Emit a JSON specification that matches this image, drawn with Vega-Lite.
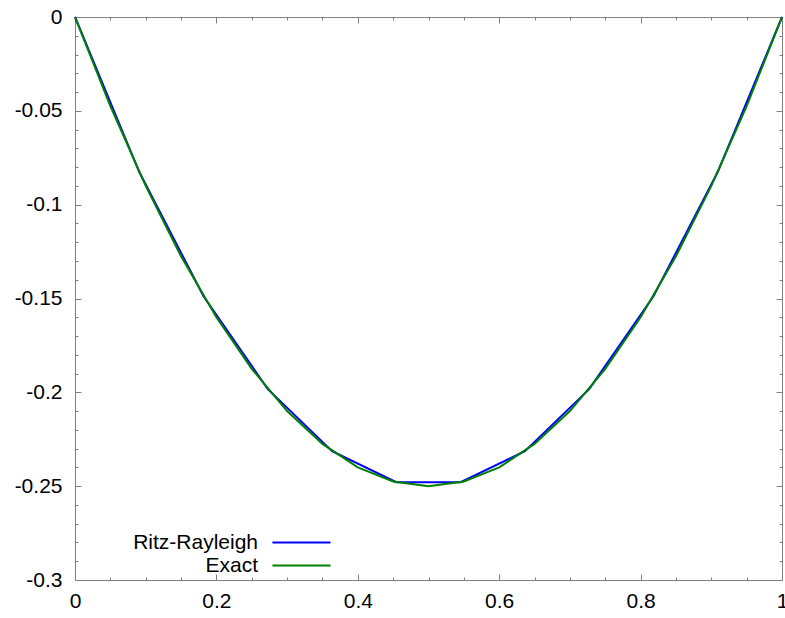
{
  "$schema": "https://vega.github.io/schema/vega-lite/v6.json",
  "width": 707,
  "height": 563,
  "autosize": {"type": "none"},
  "padding": {"left": 75, "top": 17, "right": 3, "bottom": 38},
  "background": "white",
  "config": {
    "font": "Liberation Sans",
    "view": {"stroke": "#808080", "strokeWidth": 1},
    "axis": {
      "domain": false,
      "grid": false,
      "title": null,
      "tickColor": "#808080",
      "tickWidth": 1,
      "labelFont": "Liberation Sans",
      "labelFontSize": 21,
      "labelColor": "black",
      "labelFlush": false,
      "labelOverlap": false,
      "labelBound": false
    }
  },
  "data": {
    "values": [
      {"series": "Ritz-Rayleigh", "x": 0, "y": 0},
      {"series": "Ritz-Rayleigh", "x": 0.0909, "y": -0.0826},
      {"series": "Ritz-Rayleigh", "x": 0.1818, "y": -0.1488},
      {"series": "Ritz-Rayleigh", "x": 0.2727, "y": -0.1983},
      {"series": "Ritz-Rayleigh", "x": 0.3636, "y": -0.2314},
      {"series": "Ritz-Rayleigh", "x": 0.4545, "y": -0.2479},
      {"series": "Ritz-Rayleigh", "x": 0.5455, "y": -0.2479},
      {"series": "Ritz-Rayleigh", "x": 0.6364, "y": -0.2314},
      {"series": "Ritz-Rayleigh", "x": 0.7273, "y": -0.1983},
      {"series": "Ritz-Rayleigh", "x": 0.8182, "y": -0.1488},
      {"series": "Ritz-Rayleigh", "x": 0.9091, "y": -0.0826},
      {"series": "Ritz-Rayleigh", "x": 1, "y": 0},
      {"series": "Exact", "x": 0, "y": 0},
      {"series": "Exact", "x": 0.05, "y": -0.0475},
      {"series": "Exact", "x": 0.1, "y": -0.09},
      {"series": "Exact", "x": 0.15, "y": -0.1275},
      {"series": "Exact", "x": 0.2, "y": -0.16},
      {"series": "Exact", "x": 0.25, "y": -0.1875},
      {"series": "Exact", "x": 0.3, "y": -0.21},
      {"series": "Exact", "x": 0.35, "y": -0.2275},
      {"series": "Exact", "x": 0.4, "y": -0.24},
      {"series": "Exact", "x": 0.45, "y": -0.2475},
      {"series": "Exact", "x": 0.5, "y": -0.25},
      {"series": "Exact", "x": 0.55, "y": -0.2475},
      {"series": "Exact", "x": 0.6, "y": -0.24},
      {"series": "Exact", "x": 0.65, "y": -0.2275},
      {"series": "Exact", "x": 0.7, "y": -0.21},
      {"series": "Exact", "x": 0.75, "y": -0.1875},
      {"series": "Exact", "x": 0.8, "y": -0.16},
      {"series": "Exact", "x": 0.85, "y": -0.1275},
      {"series": "Exact", "x": 0.9, "y": -0.09},
      {"series": "Exact", "x": 0.95, "y": -0.0475},
      {"series": "Exact", "x": 1, "y": 0}
    ]
  },
  "layer": [
    {
      "mark": {"type": "line", "strokeWidth": 2},
      "encoding": {
        "x": {
          "field": "x",
          "type": "quantitative",
          "scale": {"domain": [0, 1], "nice": false, "zero": false},
          "axis": {
            "orient": "bottom",
            "values": [0, 0.05, 0.1, 0.15, 0.2, 0.25, 0.3, 0.35, 0.4, 0.45, 0.5, 0.55, 0.6, 0.65, 0.7, 0.75, 0.8, 0.85, 0.9, 0.95, 1],
            "labelExpr": "abs(datum.value*5 - round(datum.value*5)) < 1e-6 ? '' + datum.value : ''",
            "tickSize": {"condition": {"test": "abs(datum.value*5 - round(datum.value*5)) < 1e-6", "value": -6}, "value": -3},
            "labelPadding": 16
          }
        },
        "y": {
          "field": "y",
          "type": "quantitative",
          "scale": {"domain": [-0.3, 0], "nice": false, "zero": false},
          "axis": {
            "orient": "left",
            "values": [-0.3, -0.29, -0.28, -0.27, -0.26, -0.25, -0.24, -0.23, -0.22, -0.21, -0.2, -0.19, -0.18, -0.17, -0.16, -0.15, -0.14, -0.13, -0.12, -0.11, -0.1, -0.09, -0.08, -0.07, -0.06, -0.05, -0.04, -0.03, -0.02, -0.01, 0],
            "labelExpr": "abs(datum.value*20 - round(datum.value*20)) < 1e-6 ? '' + datum.value : ''",
            "tickSize": {"condition": {"test": "abs(datum.value*20 - round(datum.value*20)) < 1e-6", "value": -6}, "value": -3},
            "labelPadding": 19
          }
        },
        "color": {
          "field": "series",
          "type": "nominal",
          "scale": {"domain": ["Ritz-Rayleigh", "Exact"], "range": ["#0000ff", "#008000"]},
          "legend": {
            "orient": "none",
            "legendX": 216,
            "legendY": 515,
            "title": null,
            "padding": 0,
            "symbolType": "M-5,0H5",
            "symbolSize": 135,
            "symbolStrokeWidth": 2,
            "symbolOffset": 0,
            "labelAlign": "right",
            "labelOffset": -54,
            "labelFont": "Liberation Sans",
            "labelFontSize": 21,
            "labelColor": "black",
            "labelLimit": 0,
            "rowPadding": 1
          }
        }
      }
    },
    {
      "mark": {"type": "line", "strokeOpacity": 0},
      "encoding": {
        "x": {
          "field": "x",
          "type": "quantitative",
          "axis": {
            "orient": "top",
            "values": [0, 0.05, 0.1, 0.15, 0.2, 0.25, 0.3, 0.35, 0.4, 0.45, 0.5, 0.55, 0.6, 0.65, 0.7, 0.75, 0.8, 0.85, 0.9, 0.95, 1],
            "labels": false,
            "tickSize": {"condition": {"test": "abs(datum.value*5 - round(datum.value*5)) < 1e-6", "value": -6}, "value": -3}
          }
        },
        "y": {
          "field": "y",
          "type": "quantitative",
          "axis": {
            "orient": "right",
            "values": [-0.3, -0.29, -0.28, -0.27, -0.26, -0.25, -0.24, -0.23, -0.22, -0.21, -0.2, -0.19, -0.18, -0.17, -0.16, -0.15, -0.14, -0.13, -0.12, -0.11, -0.1, -0.09, -0.08, -0.07, -0.06, -0.05, -0.04, -0.03, -0.02, -0.01, 0],
            "labels": false,
            "tickSize": {"condition": {"test": "abs(datum.value*20 - round(datum.value*20)) < 1e-6", "value": -6}, "value": -3}
          }
        },
        "detail": {"field": "series", "type": "nominal"}
      }
    }
  ],
  "resolve": {"axis": {"x": "independent", "y": "independent"}}
}
